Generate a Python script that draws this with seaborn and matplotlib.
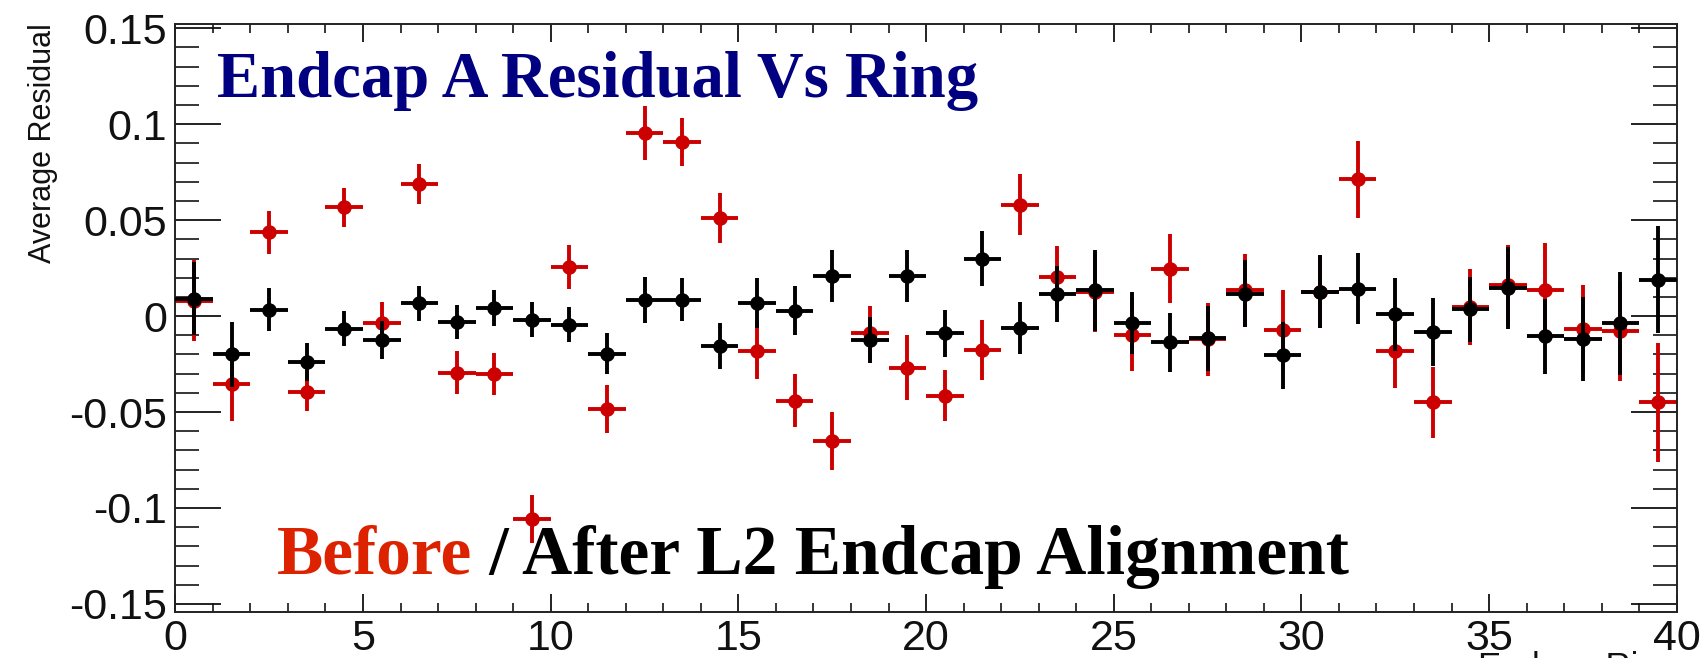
import numpy as np
import pandas as pd
import matplotlib
matplotlib.use("Agg")
import matplotlib.pyplot as plt
import seaborn as sns
from matplotlib.ticker import MultipleLocator

# ---------------- data ----------------
ring = [i + 0.5 for i in range(40)]

before_val = [0.008, -0.0355, 0.0436, -0.0394, 0.0566, -0.0035, 0.069, -0.0294, -0.0303, -0.1055,
              0.0255, -0.0485, 0.0953, 0.0907, 0.051, -0.018, -0.044, -0.065, -0.0089, -0.0268,
              -0.0414, -0.0178, 0.058, 0.0203, 0.0125, -0.0097, 0.0247, -0.012, 0.0134, -0.0072,
              0.0126, 0.0712, -0.0183, -0.0448, 0.0048, 0.016, 0.0134, -0.0068, -0.008, -0.0448]
before_err = [0.021, 0.019, 0.011, 0.010, 0.010, 0.011, 0.0105, 0.011, 0.011, 0.0125,
              0.0115, 0.0125, 0.014, 0.0124, 0.013, 0.015, 0.014, 0.015, 0.014, 0.017,
              0.0134, 0.0157, 0.016, 0.016, 0.021, 0.019, 0.018, 0.019, 0.019, 0.021,
              0.019, 0.020, 0.019, 0.0185, 0.020, 0.021, 0.0245, 0.023, 0.0257, 0.031]

after_val = [0.009, -0.020, 0.0034, -0.0239, -0.0066, -0.0126, 0.0066, -0.0031, 0.0043, -0.0019,
             -0.0045, -0.0195, 0.0086, 0.0086, -0.0154, 0.0066, 0.0028, 0.021, -0.0126, 0.021,
             -0.0089, 0.030, -0.0063, 0.0117, 0.0134, -0.0036, -0.0137, -0.0115, 0.0117, -0.0205,
             0.0126, 0.0143, 0.001, -0.0084, 0.0036, 0.0148, -0.0106, -0.012, -0.0038, 0.019]
after_err = [0.019, 0.017, 0.011, 0.010, 0.009, 0.010, 0.009, 0.009, 0.0095, 0.009,
             0.009, 0.0106, 0.012, 0.0114, 0.012, 0.013, 0.0128, 0.0135, 0.012, 0.0135,
             0.0123, 0.0143, 0.0137, 0.0146, 0.021, 0.016, 0.0154, 0.017, 0.0175, 0.0175,
             0.019, 0.0185, 0.019, 0.0176, 0.017, 0.0214, 0.0196, 0.0217, 0.027, 0.028]

bin_half_width = 0.5

title_text = "Endcap A Residual Vs Ring"
before_text = "Before"
after_text = " / After L2 Endcap Alignment"
y_label = "Average Residual"
x_label = "Endcap Ring"

# ---------------- style ----------------
sns.set_style("ticks")
plt.rcParams["font.family"] = ["Liberation Sans", "DejaVu Sans"]

RED = "#cc0000"
BLACK = "#000000"

fig = plt.figure(figsize=(17.04, 6.58), dpi=100)
ax = fig.add_axes([0.1029, 0.0699, 0.8811, 0.8936])

df_b = pd.DataFrame({"ring": ring, "val": before_val, "err": before_err})
df_a = pd.DataFrame({"ring": ring, "val": after_val, "err": after_err})

for df, col, z in [(df_b, RED, 2), (df_a, BLACK, 4)]:
    ax.errorbar(df["ring"], df["val"], yerr=df["err"], xerr=bin_half_width,
                fmt="none", ecolor=col, elinewidth=2.8, capsize=0, zorder=z)
    sns.scatterplot(data=df, x="ring", y="val", ax=ax, color=col, s=110,
                    edgecolor=col, linewidth=0, marker="o", zorder=z + 1, legend=False)

ax.set_xlim(0, 40)
ax.set_ylim(-0.1542, 0.1522)
ax.set_xlabel("")
ax.set_ylabel("")

ax.xaxis.set_major_locator(MultipleLocator(5))
ax.xaxis.set_minor_locator(MultipleLocator(1))
ax.yaxis.set_major_locator(MultipleLocator(0.05))
ax.yaxis.set_minor_locator(MultipleLocator(0.01))

ax.set_xticks([0, 5, 10, 15, 20, 25, 30, 35, 40])
ax.set_xticklabels(["0", "5", "10", "15", "20", "25", "30", "35", "40"])
ax.set_yticks([-0.15, -0.1, -0.05, 0, 0.05, 0.1, 0.15])
ax.set_yticklabels(["-0.15", "-0.1", "-0.05", "0", "0.05", "0.1", "0.15"])

for sp in ax.spines.values():
    sp.set_visible(True)
    sp.set_linewidth(1.4)
    sp.set_color("#222222")

ax.tick_params(axis="x", which="major", direction="in", length=13, width=1.3,
               top=True, bottom=True, labelsize=31, pad=5, colors="#111111")
ax.tick_params(axis="x", which="minor", direction="in", length=6.5, width=1.3,
               top=True, bottom=True)
ax.tick_params(axis="y", which="major", direction="in", length=33, width=1.3,
               left=True, right=True, labelsize=31, pad=6, colors="#111111")
ax.tick_params(axis="y", which="minor", direction="in", length=17, width=1.3,
               left=True, right=True)

# y axis title (rotated, top-aligned as in ROOT)
fig.text(0.0165, 1 - 23 / 658, y_label, rotation=90, ha="left", va="top",
         fontsize=22, color="#111111")
# x axis title (right-aligned, mostly cut off at the bottom)
fig.text(1677 / 1704, 1 - 651 / 658, x_label, ha="right", va="top",
         fontsize=25, color="#111111")

# title inside the frame
serif = ["Liberation Serif", "DejaVu Serif"]
fig.text(217 / 1704, 1 - 97 / 658, title_text, ha="left", va="baseline",
         fontsize=46.5, fontweight="bold", family=serif, color="#000080")

# bottom two-colour annotation
t1 = fig.text(277 / 1704, 1 - 574 / 658, before_text, ha="left", va="baseline",
              fontsize=50, fontweight="bold", family=serif, color="#dd2200")
fig.canvas.draw()
bb = t1.get_window_extent(renderer=fig.canvas.get_renderer())
fig.text(bb.x1 / fig.bbox.width, 1 - 574 / 658, after_text, ha="left", va="baseline",
         fontsize=50, fontweight="bold", family=serif, color="#000000")

fig.savefig("out.png", dpi=100)
